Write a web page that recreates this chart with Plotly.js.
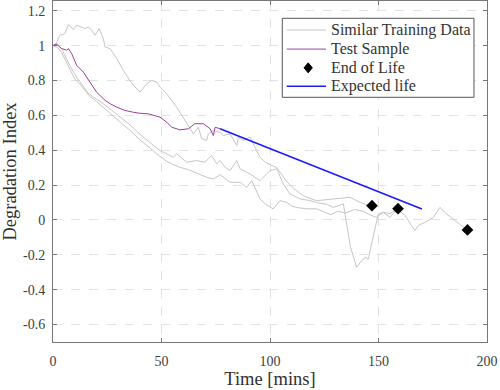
<!DOCTYPE html>
<html>
<head>
<meta charset="utf-8">
<script src="https://cdn.plot.ly/plotly-3.0.1.min.js"></script>
<style>html,body{margin:0;padding:0;background:#fff;}#chart{width:500px;height:390px;}</style>
</head>
<body>
<div id="chart"></div>
<script>
// Training curve 1 (upper)
const trainAX = [0,1.4,3.2,5.5,7.1,8.2,9.4,10.9,13.2,14.7,16.3,17.8,19.4,21.3,23.2,24,26.3,29.4,32.4,36.3,40.1,43.2,45.5,47.8,49.3,52.4,57,61.6,64.7,67,68.5,70.8,71.6,73.9,77,78.5,81.6,84.7,85.4,87.7,90.8,93.1,95.4,98,101.5,103.1,107.7,111,115.3,118,121.5,125,129.2,133,136.9,141.5,144,147];
const trainAY = [1.0,1.011,1.059,1.069,1.122,1.107,1.092,1.117,1.107,1.098,1.107,1.088,1.059,1.098,1.04,0.992,0.983,0.925,0.858,0.782,0.733,0.782,0.8,0.791,0.762,0.724,0.647,0.552,0.494,0.532,0.466,0.456,0.494,0.513,0.503,0.484,0.494,0.427,0.475,0.456,0.475,0.417,0.36,0.33,0.312,0.30,0.22,0.18,0.14,0.125,0.111,0.115,0.121,0.125,0.13,0.101,0.09,0.082];
// Training curve 2 (with the dip)
const trainBX = [0,2,4,6,8,10.9,14,16,18.6,23.2,27,31,35.5,41.6,45,49.3,53,55.4,57,61.6,66.2,70,73.1,75.4,77,79.3,81.6,84.7,86.2,90.8,95.4,100,103.1,106.1,109.2,113.8,118.4,121.5,126.1,129.2,133.8,135.3,137,139.9,142.2,143.8,145.3,146.8,149.9,152.2,155.3,157,159];
const trainBY = [1.0,1.01,0.98,0.93,0.88,0.82,0.762,0.73,0.705,0.667,0.63,0.59,0.545,0.475,0.44,0.398,0.375,0.36,0.379,0.331,0.341,0.331,0.37,0.322,0.341,0.302,0.283,0.341,0.293,0.264,0.226,0.283,0.293,0.207,0.149,0.121,0.111,0.1,0.09,0.072,0.092,-0.02,-0.15,-0.272,-0.234,-0.215,-0.224,-0.138,0.034,0.044,0.036,0.05,0.065];
// Training curve 3 (lowest, longest)
const trainCX = [0,2,4,6,8,10,12.4,15,16.9,20,24,28,32,35.5,40,44,47.8,52,55,58.5,62,66,70.8,74,77,81.6,86.2,89.3,91.6,95.4,98,101.5,104.6,107.7,110,113,116.9,121.5,125,128,131,135,139,143,146,149,152.2,155.3,158.4,162,165.3,166.8,168.5,171.4,175.3,178.3,181.4,186,188,191];
const trainCY = [1.0,0.99,0.96,0.91,0.86,0.81,0.78,0.74,0.71,0.68,0.635,0.59,0.55,0.514,0.46,0.42,0.379,0.34,0.32,0.302,0.29,0.27,0.245,0.235,0.26,0.216,0.216,0.187,0.226,0.12,0.09,0.063,0.111,0.101,0.08,0.07,0.064,0.064,0.045,0.03,0.05,0.04,0.06,0.05,0.03,0.015,0.044,0.015,0.06,0.03,-0.033,-0.061,-0.03,-0.014,0.015,0.072,0.034,-0.014,-0.03,-0.057];
// Test sample
const testX = [0,1.4,4,6.3,7.1,8.6,10.9,14,17,20.1,24,26.3,29.4,33.2,37,40,43.9,46.5,49.3,52.4,54.7,58.5,62.4,65.3,69.3,72.4,73.9,74.7,77];
const testY = [1.0,1.01,0.983,0.974,0.983,0.954,0.887,0.848,0.791,0.733,0.686,0.667,0.647,0.628,0.618,0.612,0.609,0.6,0.59,0.561,0.532,0.517,0.523,0.552,0.552,0.523,0.484,0.532,0.523];
// End of life points
const eolX = [147, 159, 191];
const eolY = [0.082, 0.065, -0.057];
// Expected life line
const expX = [77, 170];
const expY = [0.523, 0.063];
// Ticks
const xTickVals = [0,50,100,150,200];
const yTickVals = [-0.6,-0.4,-0.2,0,0.2,0.4,0.6,0.8,1,1.2];
const yTickText = ['-0.6','-0.4','-0.2','0','0.2','0.4','0.6','0.8','1','1.2'];
// Legend labels
const legendNames = ['Similar Training Data', 'Test Sample', 'End of Life', 'Expected life'];

const gray = '#c6c6c6';
const purple = '#9b3fa0';
const blue = '#1a1aff';
const traces = [
  {x: trainAX, y: trainAY, mode: 'lines', line: {color: gray, width: 1}, name: legendNames[0]},
  {x: trainBX, y: trainBY, mode: 'lines', line: {color: gray, width: 1}, name: legendNames[0]},
  {x: trainCX, y: trainCY, mode: 'lines', line: {color: gray, width: 1}, name: legendNames[0]},
  {x: testX, y: testY, mode: 'lines', line: {color: purple, width: 1}, name: legendNames[1]},
  {x: eolX, y: eolY, mode: 'markers', marker: {symbol: 'diamond', color: '#000', size: 9}, name: legendNames[2]},
  {x: expX, y: expY, mode: 'lines', line: {color: blue, width: 1.5}, name: legendNames[3]}
];

const fontFam = 'Liberation Serif, Times New Roman, serif';

// Legend box (drawn in paper coordinates)
const lgX0 = 0.5283, lgX1 = 0.970, lgY0 = 0.7176, lgY1 = 0.9493;
const rowY = [0.915, 0.859, 0.804, 0.750];
const smpX0 = 0.5385, smpX1 = 0.629, dmX = 0.588, txtX = 0.636;
const dw = 0.0095, dh = 0.0147;
const shapes = [
  {type: 'rect', xref: 'paper', yref: 'paper', x0: lgX0, x1: lgX1, y0: lgY0, y1: lgY1, line: {color: '#555', width: 1}, fillcolor: '#fff', layer: 'above'},
  {type: 'line', xref: 'paper', yref: 'paper', x0: smpX0, x1: smpX1, y0: rowY[0], y1: rowY[0], line: {color: gray, width: 1}, layer: 'above'},
  {type: 'line', xref: 'paper', yref: 'paper', x0: smpX0, x1: smpX1, y0: rowY[1], y1: rowY[1], line: {color: purple, width: 1}, layer: 'above'},
  {type: 'path', xref: 'paper', yref: 'paper', layer: 'above', fillcolor: '#000', line: {color: '#000', width: 1},
   path: `M ${dmX} ${rowY[2]+dh} L ${dmX+dw} ${rowY[2]} L ${dmX} ${rowY[2]-dh} L ${dmX-dw} ${rowY[2]} Z`},
  {type: 'line', xref: 'paper', yref: 'paper', x0: smpX0, x1: smpX1, y0: rowY[3], y1: rowY[3], line: {color: blue, width: 1.5}, layer: 'above'}
];
const annotations = legendNames.map((t, i) => ({
  text: t, xref: 'paper', yref: 'paper', x: txtX, y: rowY[i], xanchor: 'left', yanchor: 'middle',
  showarrow: false, font: {family: fontFam, size: 16, color: '#333'}
}));

const layout = {
  width: 500, height: 390,
  margin: {l: 53, r: 13, t: 1, b: 48},
  paper_bgcolor: '#fff', plot_bgcolor: '#fff',
  font: {family: fontFam, size: 14, color: '#404040'},
  showlegend: false,
  shapes: shapes,
  annotations: annotations,
  xaxis: {range: [0, 200], tickvals: xTickVals, ticks: 'inside', ticklen: 4, tickcolor: '#777',
          showline: true, linecolor: '#777', linewidth: 1, mirror: 'ticks', zeroline: false,
          showgrid: true, gridcolor: '#e2e2e2', griddash: 'dash', gridwidth: 1,
          ticklabelstandoff: 6,
          tickfont: {family: fontFam, size: 14, color: '#404040'},
          title: {text: 'Time [mins]', font: {family: fontFam, size: 18.5, color: '#303030'}, standoff: 3}},
  yaxis: {range: [-0.7, 1.256], tickvals: yTickVals, ticktext: yTickText, ticks: 'inside', ticklen: 4, tickcolor: '#777',
          showline: true, linecolor: '#777', linewidth: 1, mirror: 'ticks', zeroline: false,
          showgrid: true, gridcolor: '#e2e2e2', griddash: 'dash', gridwidth: 1,
          ticklabelstandoff: 4,
          tickfont: {family: fontFam, size: 14, color: '#404040'},
          title: {text: 'Degradation Index', font: {family: fontFam, size: 18.5, color: '#303030'}, standoff: 5}}
};
Plotly.newPlot('chart', traces, layout, {displayModeBar: false, staticPlot: true});
</script>
</body>
</html>
